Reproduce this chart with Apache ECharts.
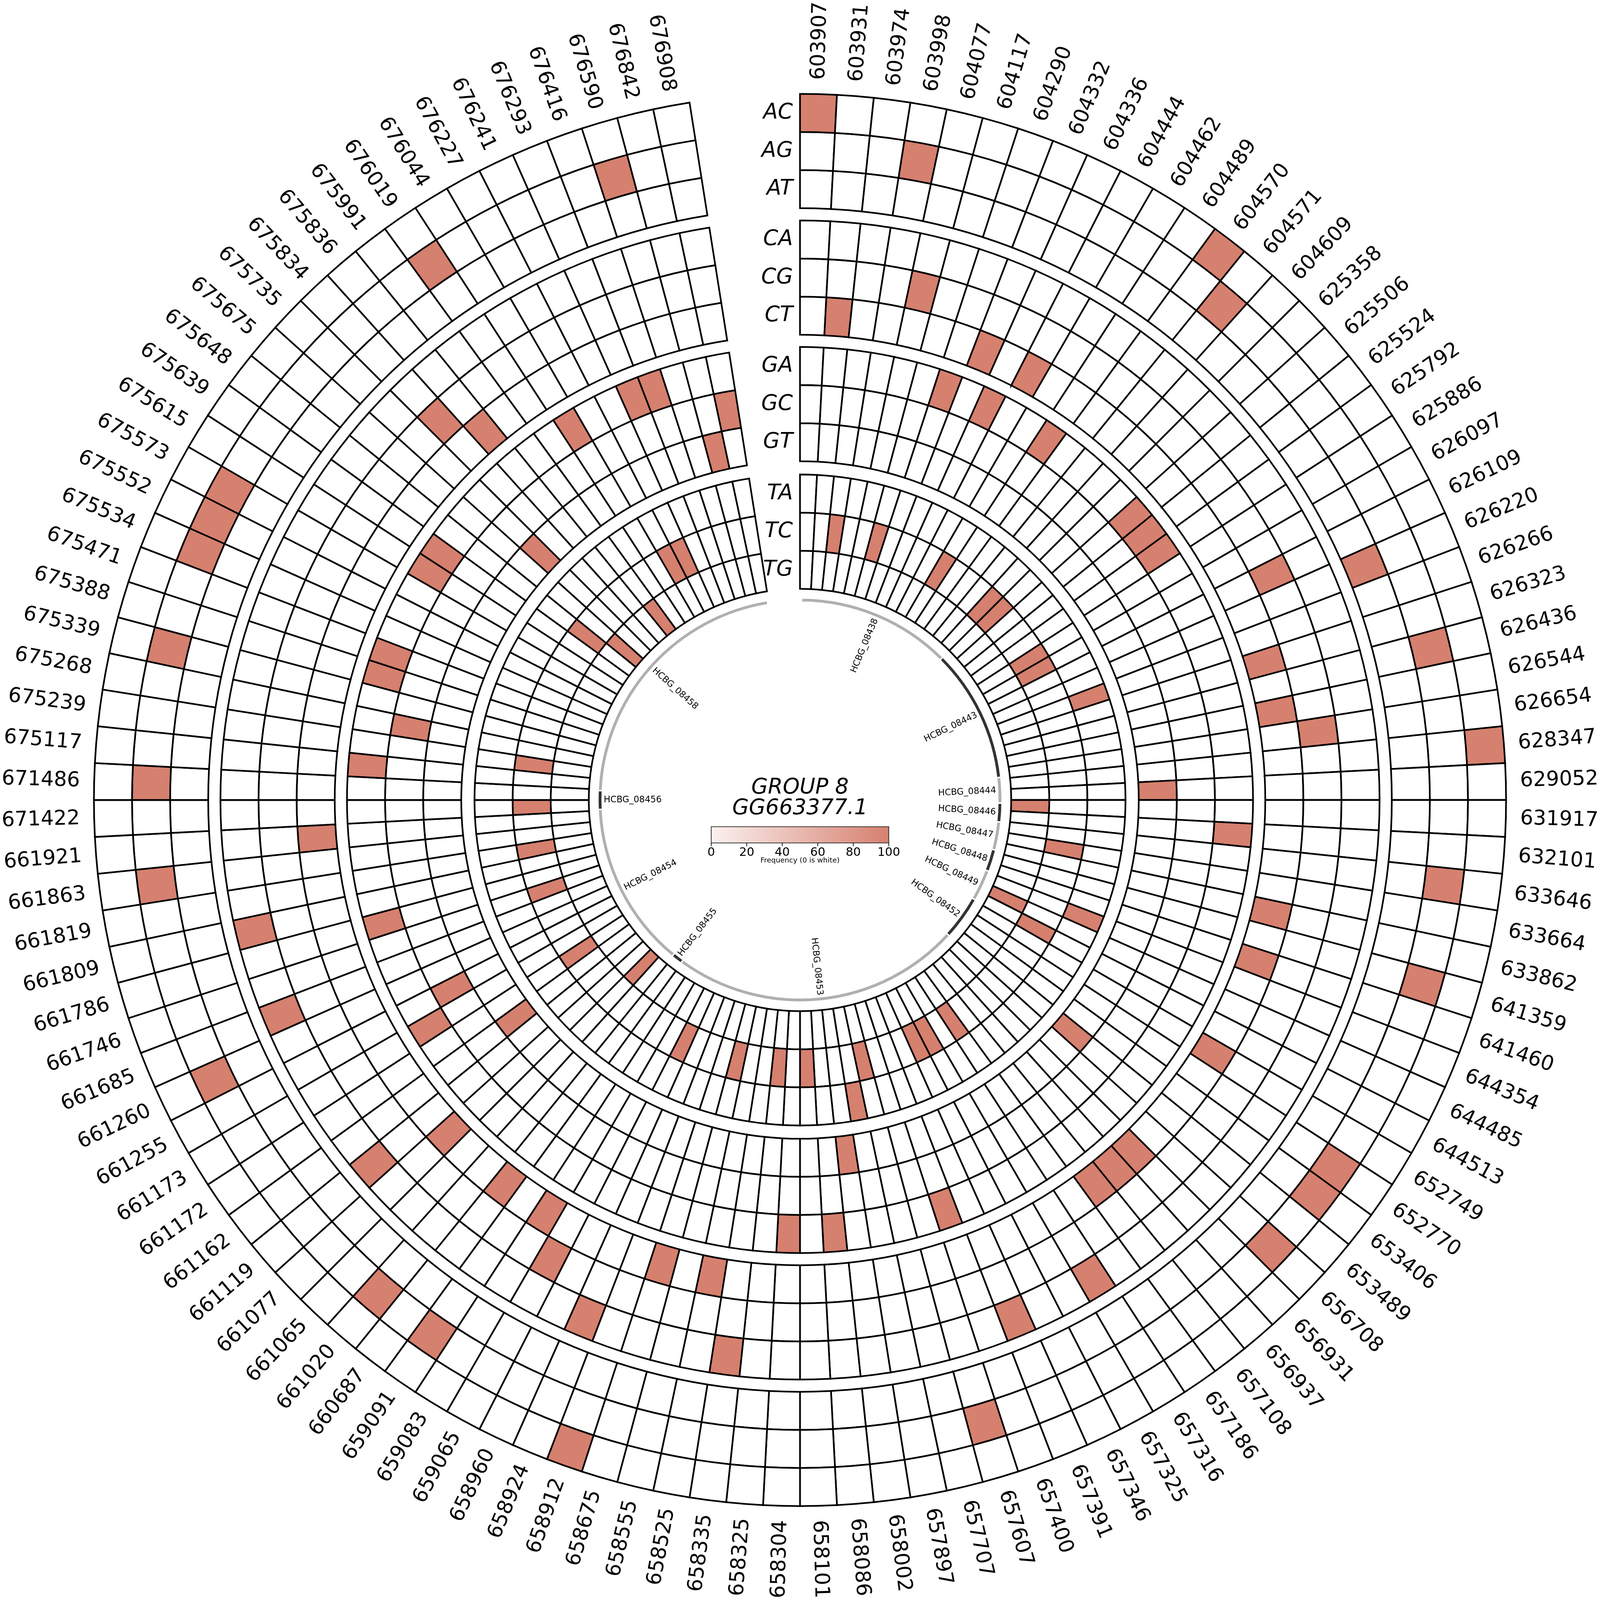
<!DOCTYPE html>
<html>
<head>
<meta charset="utf-8">
<script src="https://cdn.jsdelivr.net/npm/echarts@6/dist/echarts.min.js"></script>
<style>
  html, body { margin: 0; padding: 0; background: #fff; overflow: hidden; }
  #chart { width: 100vw; height: 100vh; }
</style>
</head>
<body>
<div id="chart"></div>
<script>
// SNP positions, clockwise from the top
const positions = [
  '603907','603931','603974','603998','604077','604117','604290','604332','604336','604444',
  '604462','604489','604570','604571','604609','625358','625506','625524','625792','625886',
  '626097','626109','626220','626266','626323','626436','626544','626654','628347','629052',
  '631917','632101','633646','633664','633862','641359','641460','644354','644485','644513',
  '652749','652770','653406','653489','656708','656931','656937','657108','657186','657316',
  '657325','657346','657391','657400','657607','657707','657897','658002','658086','658101',
  '658304','658325','658335','658525','658555','658675','658912','658924','658960','659065',
  '659083','659091','660687','661020','661065','661077','661119','661162','661172','661173',
  '661255','661260','661685','661746','661786','661809','661819','661863','661921','671422',
  '671486','675117','675239','675268','675339','675388','675471','675534','675552','675573',
  '675615','675639','675648','675675','675735','675834','675836','675991','676019','676044',
  '676227','676241','676293','676416','676590','676842','676908'
];
// empty slots that leave the gap at the top (distinct names so they are not merged)
const gapSlots = ['gap1', 'gap2', 'gap3'];

// column indices of the cells at frequency 100 (all other cells are 0)
const AC = [0, 12, 28, 66];
const AG = [3, 13, 25, 32, 35, 41, 42, 44, 54, 71, 73, 81, 87, 90, 94, 97, 98, 99, 108, 114];
const AT = [22];
const CA = [49, 52, 62, 67, 76, 82, 85];
const CG = [4, 21, 27, 69, 105];
const CT = [1, 7, 9, 24, 26, 34, 36, 40, 45, 46, 47, 63, 65, 70, 72, 75, 88, 106];
const GA = [6, 8, 11, 16, 17, 18, 31, 53, 58, 60, 79, 84, 91, 95, 96, 100, 101, 109, 112, 113];
const GC = [80, 93, 116];
const GT = [29, 43, 57, 77, 104, 115];
const TA = [23, 37, 56];
const TC = [2, 5, 10, 14, 15, 19, 20, 33, 39, 48, 50, 51, 55, 59, 61, 64, 68, 78, 83, 86, 89, 92, 102, 110, 111];
const TG = [30, 38, 74, 103, 107];

// genes on the inner track (in column units)
const geneNames = ['HCBG_08438','HCBG_08443','HCBG_08444','HCBG_08446','HCBG_08447','HCBG_08448','HCBG_08449',
                   'HCBG_08452','HCBG_08453','HCBG_08455','HCBG_08454','HCBG_08456','HCBG_08458'];
const geneStart = [0.15, 15.0, 27.85, 30.3, 32.1, 34.8, 36.9, 39.9, 44.1, 72.05, 73.1, 89.1, 90.9];
const geneEnd   = [15.0, 27.85, 30.3, 32.1, 34.8, 36.9, 39.9, 44.1, 72.05, 73.1, 89.1, 90.9, 116.9];
const geneDark  = [0, 1, 0, 1, 0, 1, 0, 1, 0, 1, 0, 1, 0];

const colorbarTicks = [0, 20, 40, 60, 80, 100];

// layout: K scales the 6713px design to the actual viewport
const S = Math.min(window.innerWidth, window.innerHeight);
const K = S / 6713;
const px = v => v * K;
const ROW = 112 / 3;
const SAL = '#d6806f';
const R_MAX = 692;
const FONT = 'DejaVu Sans';

const rings = [
  { pad: 207, rows: [['TG', TG], ['TC', TC], ['TA', TA]] },
  { pad: 13,  rows: [['GT', GT], ['GC', GC], ['GA', GA]] },
  { pad: 12,  rows: [['CT', CT], ['CG', CG], ['CA', CA]] },
  { pad: 12,  rows: [['AT', AT], ['AG', AG], ['AC', AC]] }
];

const cats = positions.concat(gapSlots);
const total = cats.length;

const series = [];
const rowLabelData = [];
let base = 0;
rings.forEach(ring => {
  series.push({
    type: 'bar', coordinateSystem: 'polar', polarIndex: 0, stack: 'rings',
    barCategoryGap: '0%', silent: true,
    itemStyle: { color: 'rgba(0,0,0,0)', borderWidth: 0 },
    data: cats.map((c, i) => i < positions.length ? ring.pad : '-')
  });
  base += ring.pad;
  ring.rows.forEach(([name, hits]) => {
    series.push({
      name: name, type: 'bar', coordinateSystem: 'polar', polarIndex: 0, stack: 'rings',
      barCategoryGap: '0%', silent: true,
      itemStyle: { borderColor: '#000', borderWidth: px(7) },
      data: cats.map((c, i) => i < positions.length
        ? { value: ROW, itemStyle: { color: hits.includes(i) ? SAL : '#ffffff' } }
        : '-')
    });
    rowLabelData.push([base + ROW / 2, name]);
    base += ROW;
  });
});

function radialText(p, cs) {
  const a = Math.atan2(cs.cy - p[1], p[0] - cs.cx);
  const right = Math.cos(a) >= -1e-6;
  return { rot: right ? a : a - Math.PI, right: right };
}

// position labels
series.push({
  type: 'custom', coordinateSystem: 'polar', polarIndex: 0, silent: true,
  data: positions.map((p, i) => [706, i]),
  renderItem: function (params, api) {
    const i = api.value(1);
    const p = api.coord([api.value(0), i]);
    const t = radialText(p, params.coordSys);
    return {
      type: 'text', x: p[0], y: p[1], rotation: t.rot,
      style: { text: positions[i], align: t.right ? 'left' : 'right', verticalAlign: 'middle',
               font: px(86) + 'px "' + FONT + '"', fill: '#000' }
    };
  }
});

// row labels in the gap
series.push({
  type: 'custom', coordinateSystem: 'polar', polarIndex: 0, silent: true,
  data: rowLabelData.map(d => [d[0], 0]),
  renderItem: function (params, api) {
    const cs = params.coordSys;
    const p = api.coord([api.value(0), 0]);
    const d = Math.hypot(p[0] - cs.cx, p[1] - cs.cy);
    return {
      type: 'text', x: cs.cx - px(30), y: cs.cy - d,
      style: { text: rowLabelData[params.dataIndex][1], align: 'right', verticalAlign: 'middle',
               font: 'italic ' + px(90) + 'px "' + FONT + '"', fill: '#000' }
    };
  }
});

// gene track
series.push({
  type: 'custom', coordinateSystem: 'polar', polarIndex: 1, silent: true,
  data: geneNames.map((g, i) => [196, geneStart[i], geneEnd[i]]),
  renderItem: function (params, api) {
    const cs = params.coordSys;
    const p0 = api.coord([api.value(0), api.value(1)]);
    const p1 = api.coord([api.value(0), api.value(2)]);
    const a0 = Math.atan2(p0[1] - cs.cy, p0[0] - cs.cx);
    let a1 = Math.atan2(p1[1] - cs.cy, p1[0] - cs.cx);
    if (a1 < a0) a1 += Math.PI * 2;
    const r = Math.hypot(p0[0] - cs.cx, p0[1] - cs.cy);
    return {
      type: 'sector',
      shape: { cx: cs.cx, cy: cs.cy, r0: r - px(9), r: r + px(9), startAngle: a0, endAngle: a1, clockwise: true },
      style: { fill: geneDark[params.dataIndex] ? '#333333' : '#b0b0b0', stroke: '#fff', lineWidth: px(6) }
    };
  }
});

// gene labels
series.push({
  type: 'custom', coordinateSystem: 'polar', polarIndex: 1, silent: true,
  data: geneNames.map((g, i) => [164, (geneStart[i] + geneEnd[i]) / 2]),
  renderItem: function (params, api) {
    const p = api.coord([api.value(0), api.value(1)]);
    const t = radialText(p, params.coordSys);
    return {
      type: 'text', x: p[0], y: p[1], rotation: t.rot,
      style: { text: geneNames[params.dataIndex], align: 'center', verticalAlign: 'middle',
               font: px(37) + 'px "' + FONT + '"', fill: '#000' }
    };
  }
});

// centre title and colour bar (positions relative to the chart centre)
const cx = window.innerWidth / 2, cy = window.innerHeight / 2;
const barLen = px(745), barX0 = cx - barLen / 2, barY = cy + px(112), barH = px(68);
const graphic = [
  { type: 'text', x: cx, y: cy - px(51), style: { text: 'GROUP 8', align: 'center', verticalAlign: 'middle',
      font: 'italic ' + px(90) + 'px "' + FONT + '"', fill: '#000' } },
  { type: 'text', x: cx, y: cy + px(35), style: { text: 'GG663377.1', align: 'center', verticalAlign: 'middle',
      font: 'italic ' + px(90) + 'px "' + FONT + '"', fill: '#000' } },
  { type: 'rect', shape: { x: barX0, y: barY, width: barLen, height: barH },
    style: { fill: new echarts.graphic.LinearGradient(0, 0, 1, 0, [
      { offset: 0, color: '#fbf1ef' }, { offset: 1, color: SAL }]), stroke: '#222', lineWidth: px(3) } },
  { type: 'text', x: cx, y: barY + barH + px(75), style: { text: 'Frequency (0 is white)', align: 'center',
      verticalAlign: 'middle', font: px(30) + 'px "' + FONT + '"', fill: '#000' } }
];
colorbarTicks.forEach(v => {
  const x = barX0 + v / 100 * barLen;
  graphic.push({ type: 'line', shape: { x1: x, y1: barY + barH, x2: x, y2: barY + barH + px(14) },
                 style: { stroke: '#000', lineWidth: px(3) } });
  graphic.push({ type: 'text', x: x, y: barY + barH + px(42), style: { text: String(v), align: 'center',
                 verticalAlign: 'middle', font: px(50) + 'px "' + FONT + '"', fill: '#000' } });
});

const R_PX = px(R_MAX * 4.281);
const hidden = { axisLine: { show: false }, axisTick: { show: false }, axisLabel: { show: false }, splitLine: { show: false } };

const chart = echarts.init(document.getElementById('chart'), null, { renderer: 'canvas' });
chart.setOption({
  animation: false,
  backgroundColor: '#ffffff',
  polar: [
    { center: ['50%', '50%'], radius: [0, R_PX] },
    { center: ['50%', '50%'], radius: [0, R_PX] }
  ],
  angleAxis: [
    Object.assign({ polarIndex: 0, type: 'category', data: cats, startAngle: 90, clockwise: true, boundaryGap: true }, hidden),
    Object.assign({ polarIndex: 1, type: 'value', min: 0, max: total, startAngle: 90, clockwise: true }, hidden)
  ],
  radiusAxis: [
    Object.assign({ polarIndex: 0, type: 'value', min: 0, max: R_MAX }, hidden),
    Object.assign({ polarIndex: 1, type: 'value', min: 0, max: R_MAX }, hidden)
  ],
  graphic: graphic,
  series: series
});
</script>
</body>
</html>
